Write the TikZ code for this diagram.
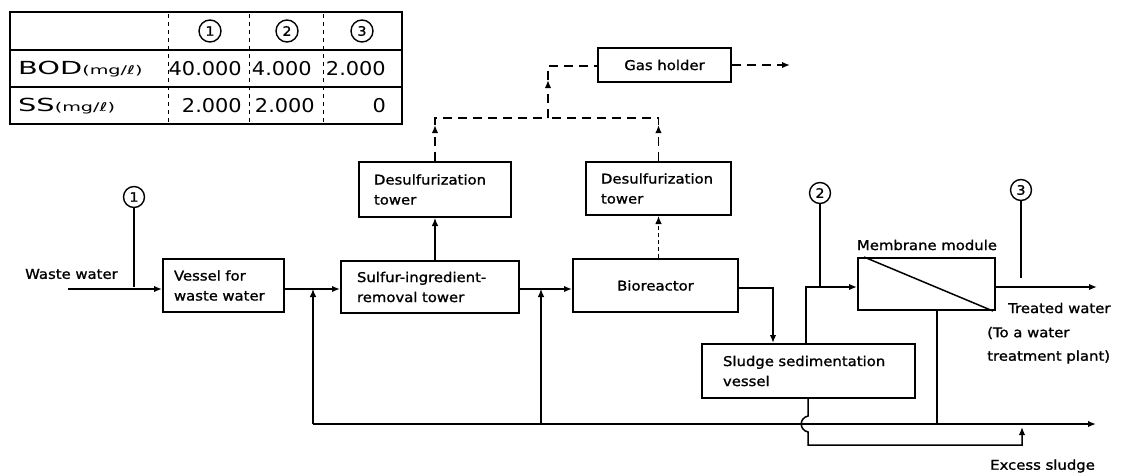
\documentclass[tikz,border=0pt]{standalone}
\usepackage{fontspec}
\setmainfont{DejaVu Sans}
\newfontfamily\dfont[FakeStretch=1.1,FakeBold=1.2]{DejaVu Sans}
\newfontfamily\tfont[FakeStretch=1.1]{DejaVu Sans}
\newfontfamily\bfont[FakeStretch=1.6]{DejaVu Sans}
\usetikzlibrary{arrows.meta}
\begin{document}
\begin{tikzpicture}[x=1pt,y=-1pt,
  lbl/.style={font=\dfont\fontsize{13.5}{20}\selectfont, inner sep=0pt},
  blk/.style={draw, line width=2pt, inner ysep=0pt, font=\dfont\fontsize{13.5}{20}\selectfont, align=left},
  num/.style={circle, draw, line width=1.4pt, minimum size=21pt, inner sep=0pt, font=\dfont\fontsize{13}{13}\selectfont},
  tnum/.style={font=\tfont\fontsize{19}{19}\selectfont, inner sep=0pt},
  tlab/.style={font=\bfont\fontsize{18}{18}\selectfont, inner sep=0pt},
  tip/.style={-{Latex[length=8pt,width=6.5pt]}},
  flow/.style={line width=2pt, tip},
  thinflow/.style={line width=1.1pt, tip},
  thinline/.style={line width=1.1pt},
  gasline/.style={line width=1.6pt, dash pattern=on 9pt off 6pt},
  gasflow/.style={gasline, tip}
]
\fill[white] (0,0) rectangle (1130,472);

% ---------- table ----------
\draw[line width=2pt] (10,12) rectangle (402,124);
\draw[line width=1.8pt] (10,50) -- (402,50) (10,87) -- (402,87);
\draw[line width=1pt, dash pattern=on 4pt off 4pt] (168,14) -- (168,122) (249,14) -- (249,122) (323,14) -- (323,122);
\node[num, minimum size=22pt] (h1) at (210,31) {1};
\node[num, minimum size=22pt] (h2) at (287,31) {2};
\node[num, minimum size=22pt] (h3) at (362,31) {3};
\node[tlab, anchor=west] (bod) at (18,69) {BOD{\fontsize{12}{12}\selectfont(mg/ℓ)}};
\node[tnum, anchor=east] (b1) at (242,69) {40.000};
\node[tnum, anchor=east] (b2) at (312,69) {4.000};
\node[tnum, anchor=east] (b3) at (386,69) {2.000};
\node[tlab, anchor=west] (ss) at (18,106) {SS{\fontsize{12}{12}\selectfont(mg/ℓ)}};
\node[tnum, anchor=east] (s1) at (242,106) {2.000};
\node[tnum, anchor=east] (s2) at (315,106) {2.000};
\node[tnum, anchor=east] (s3) at (386,106) {0};

% ---------- boxes ----------
\node[blk, inner xsep=11pt, text width=99pt, minimum height=53pt] (vessel) at (223.5,285.5) {Vessel for\\waste water};
\node[blk, inner xsep=16pt, text width=146pt, minimum height=52pt] (sulfur) at (430,287) {Sulfur-ingredient-\\removal tower};
\node[blk, align=center, minimum width=165pt, minimum height=53pt] (bio) at (655.5,285.5) {Bioreactor};
\node[blk, inner xsep=15pt, text width=122pt, minimum height=55pt] (dt1) at (435,189.5) {Desulfurization\\tower};
\node[blk, inner xsep=15pt, text width=115pt, minimum height=53pt] (dt2) at (658.5,188.5) {Desulfurization\\tower};
\node[blk, align=center, minimum width=133pt, minimum height=34pt] (gas) at (664.5,65) {Gas holder};
\node[blk, inner xsep=21pt, text width=171pt, minimum height=54pt] (sludge) at (808.5,371) {Sludge sedimentation\\vessel};
\node[blk, minimum width=137pt, minimum height=52pt] (memb) at (926.5,284) {};
\draw[line width=1.5pt] ([xshift=7pt]memb.north west) -- ([xshift=-3pt]memb.south east);
\node[lbl] (ml) at (927,245) {Membrane module};

% ---------- labels ----------
\node[lbl, anchor=west] (ww) at (25,274) {Waste water};
\node[lbl, anchor=west] (tw) at (1008,308) {Treated water};
\node[lbl, anchor=west] (tw2) at (987,333) {(To a water};
\node[lbl, anchor=west] (tw3) at (987,357) {treatment plant)};
\node[lbl, anchor=west] (ex) at (990,466) {Excess sludge};

% ---------- sampling points ----------
\node[num] (n1) at (134,197) {1};
\node[num] (n2) at (820,193) {2};
\node[num] (n3) at (1021,190) {3};
\coordinate (n1e) at (134,287);
\coordinate (n2e) at (820,287);
\coordinate (n3e) at (1021,278);
\draw[thinline] (n1) -- (n1e);
\draw[thinline] (n2) -- (n2e);
\draw[thinline] (n3) -- (n3e);

% ---------- main flow ----------
\coordinate (ws) at (68,289);
\coordinate (j1) at (313,289);
\coordinate (j2) at (541,289);
\coordinate (b1) at (773,288);
\coordinate (m1) at (806,287);
\coordinate (t1) at (1097,287);
\draw[flow] (ws) -- (vessel.west |- ws);
\draw[flow] (vessel.east |- j1) -- (sulfur.west |- j1);
\draw[flow] (sulfur.east |- j2) -- (bio.west |- j2);
\draw[flow] (bio.east |- b1) -- (b1) -- (b1 |- sludge.north);
\draw[flow] (m1 |- sludge.north) -- (m1) -- (memb.west |- m1);
\draw[flow] (memb.east |- t1) -- (t1);

% ---------- return line ----------
\coordinate (r1) at (313,424);
\coordinate (r2) at (541,424);
\coordinate (rend) at (1096,424);
\coordinate (c1) at (937,424);
\draw[flow] (r1) -- (rend);
\draw[thinflow] (r1) -- (j1);
\draw[thinflow] (r2) -- (j2);
\draw[thinline] (memb.south -| c1) -- (c1);

% ---------- excess sludge ----------
\coordinate (e1) at (808,416);
\coordinate (e2) at (808,432);
\coordinate (e3) at (808,445);
\coordinate (e4) at (1022,445);
\coordinate (e5) at (1022,427);
\draw[line width=1.5pt, tip] (sludge.south -| e1) -- (e1) .. controls (799,418) and (799,430) .. (e2) -- (e3) -- (e4) -- (e5);

% ---------- gas lines ----------
\draw[thinflow] (dt1.south |- sulfur.north) -- (dt1.south);
\draw[thinflow, dash pattern=on 4pt off 3pt] (dt2.south |- bio.north) -- (dt2.south);
\coordinate (gj) at (548,118);
\coordinate (gt) at (548,66);
\draw[gasflow] (dt1.north) -- ++(0,-36) coordinate (d1a);
\draw[gasline] (d1a) -- (dt1.north |- gj) -- (gj);
\draw[gasflow] (dt2.north) -- ++(0,-36) coordinate (d2a);
\draw[gasline] (d2a) -- (dt2.north |- gj) -- (gj);
\draw[gasflow] (gj) -- ++(0,-38) coordinate (ga);
\draw[gasline] (ga) -- (gt) -- (gas.west |- gt);
\coordinate (gout) at (790,65);
\draw[gasflow] (gas.east) -- (gout);
\end{tikzpicture}
\end{document}
